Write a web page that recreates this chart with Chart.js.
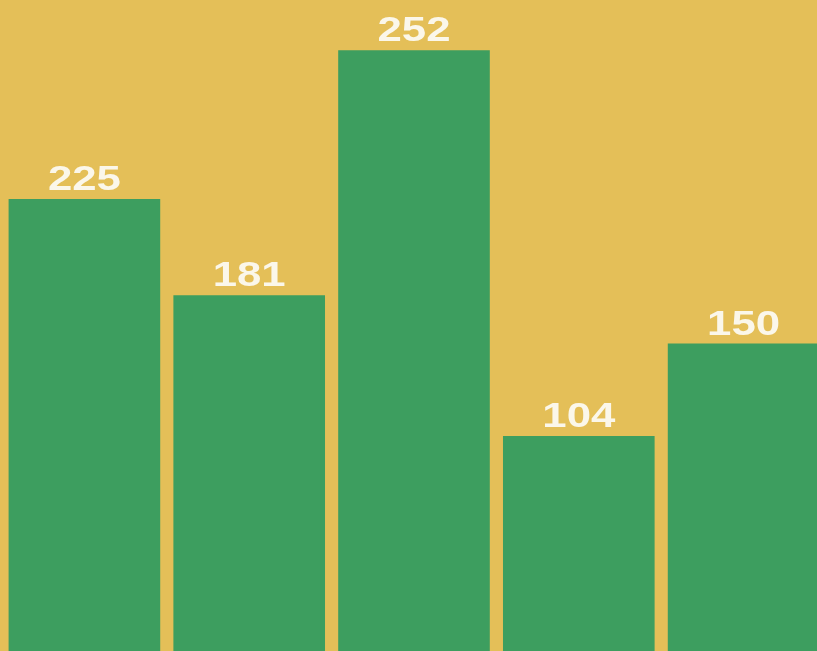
<!DOCTYPE html>
<html lang="en">
<head>
    <meta charset="UTF-8">
    <title>Bars</title>
    <script src="https://cdn.jsdelivr.net/npm/chart.js"></script>
    <style>
        html, body { margin: 0; padding: 0; overflow: hidden; background: #e4bf58; }
        .container { position: absolute; left: 2px; top: 0; width: 824px; height: 651px; }
    </style>
</head>
<body>
<div class="container">
    <canvas id="barChart"></canvas>
</div>

<script>
    // categories (unlabelled in the picture)
    const categories = ['A', 'B', 'C', 'D', 'E'];
    // numbers printed above the bars
    const printedValues = [225, 181, 252, 104, 150];
    // bar lengths as drawn, in the same units (the 252 bar is drawn taller than its number)
    const barHeights = [225, 177, 299, 107, 153];

    const valueLabels = {
        id: 'valueLabels',
        afterDatasetsDraw(chart) {
            const ctx = chart.ctx;
            const bars = chart.getDatasetMeta(0).data;
            ctx.save();
            ctx.fillStyle = '#fbf7ea';
            ctx.font = 'bold 35px "Liberation Sans", Arial, sans-serif';
            ctx.textAlign = 'center';
            ctx.textBaseline = 'alphabetic';
            bars.forEach((bar, i) => {
                ctx.save();
                ctx.translate(bar.x, bar.y - 9);
                ctx.scale(1.25, 1);
                ctx.fillText(String(printedValues[i]), 0, 0);
                ctx.restore();
            });
            ctx.restore();
        }
    };

    const ctx = document.getElementById('barChart').getContext('2d');
    new Chart(ctx, {
        type: 'bar',
        data: {
            labels: categories,
            datasets: [{
                data: barHeights,
                backgroundColor: '#3d9e5f',
                borderWidth: 0,
                barPercentage: 0.92,
                categoryPercentage: 1
            }]
        },
        options: {
            responsive: true,
            maintainAspectRatio: false,
            animation: false,
            layout: { padding: 0 },
            plugins: {
                legend: { display: false },
                tooltip: { enabled: false }
            },
            scales: {
                x: { display: false },
                y: { display: false, min: 0, max: 324 }
            }
        },
        plugins: [valueLabels]
    });
</script>
</body>
</html>
